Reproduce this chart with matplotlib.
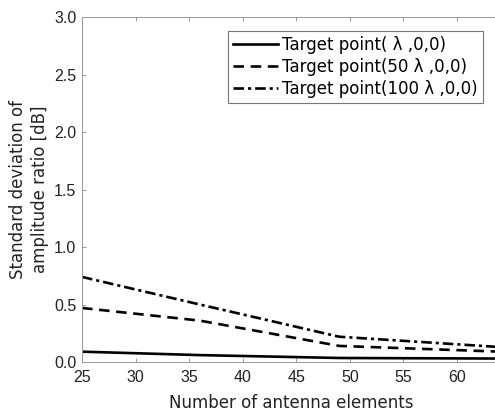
import matplotlib
matplotlib.use("Agg")
import matplotlib.pyplot as plt

plt.rcParams['font.family'] = ['DejaVu Sans', 'Noto Sans CJK JP']

# Number of antenna elements (square arrays)
elements = [25, 36, 49, 64]
std_lambda = [0.09, 0.06, 0.035, 0.03]
std_50lambda = [0.47, 0.36, 0.14, 0.09]
std_100lambda = [0.74, 0.50, 0.22, 0.13]

labels = ["Target point( \u03bb ,0,0)",
          "Target point(50 \u03bb ,0,0)",
          "Target point(100 \u03bb ,0,0)"]

xticks = [25, 30, 35, 40, 45, 50, 55, 60]
yticks = [0.0, 0.5, 1.0, 1.5, 2.0, 2.5, 3.0]

fig = plt.figure(figsize=(4.95, 4.15), dpi=100)
ax = fig.add_axes([0.1657, 0.1277, 0.844, 0.831])

ax.plot(elements, std_lambda, color='black', lw=1.9, ls='-', label=labels[0])
ax.plot(elements, std_50lambda, color='black', lw=1.9, ls=(0, (4, 2.5)), label=labels[1])
ax.plot(elements, std_100lambda, color='black', lw=1.9, ls=(0, (4, 1.5, 1.2, 1.5)), label=labels[2])

ax.set_xlim(25, 64)
ax.set_ylim(0, 3.0)
ax.set_xticks(xticks)
ax.set_yticks(yticks)
ax.set_yticklabels([f"{v:.1f}" for v in yticks])

ax.tick_params(direction='in', top=True, right=True, length=3, width=0.6,
               color='#888888', labelsize=11.5, labelcolor='#222222', pad=4)
ax.tick_params(axis='x', pad=6)
for lbl in ax.get_xticklabels() + ax.get_yticklabels():
    lbl.set_fontfamily('Liberation Sans')
for s in ax.spines.values():
    s.set_color('#999999')
    s.set_linewidth(0.7)

ax.set_xlabel("Number of antenna elements", fontsize=12, color='#222222', labelpad=6)
ax.set_ylabel("Standard deviation of\namplitude ratio [dB]", fontsize=12,
              color='#222222', labelpad=4, linespacing=1.25)

leg = ax.legend(loc='upper right', bbox_to_anchor=(0.979, 0.985), fontsize=12,
                handlelength=2.7, handletextpad=0.25, borderpad=0.3,
                labelspacing=0.25, fancybox=False, framealpha=1,
                edgecolor='#777777')
leg.get_frame().set_linewidth(0.8)

fig.savefig("out.png", dpi=100)
